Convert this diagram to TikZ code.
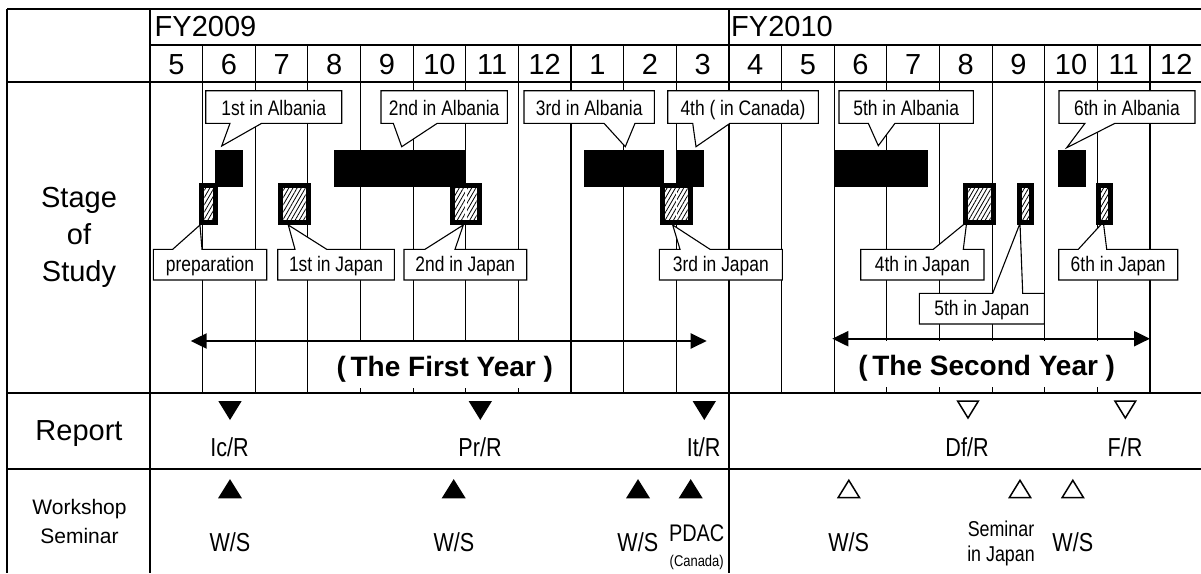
\documentclass[tikz,border=0pt]{standalone}
\usepackage{fontspec}
\setmainfont{Liberation Sans}
\newfontfamily\narrowf[FakeStretch=0.83]{Liberation Sans}
\usetikzlibrary{arrows.meta,patterns.meta}

\newcommand\calDown[8]{%
  \draw[callout] (#1,#2) -- (#3,#2) -- (#3,#4) -- (#6,#4) -- (#7,#8) -- (#5,#4) -- (#1,#4) -- cycle;}
\newcommand\calUp[8]{%
  \draw[callout] (#1,#2) -- (#5,#2) -- (#7,#8) -- (#6,#2) -- (#3,#2) -- (#3,#4) -- (#1,#4) -- cycle;}
\newcommand\hatchbx[2]{%
  \fill[black] (#1,183.3) rectangle (#2,225);
  \fill[white] ({#1+5},188.3) rectangle ({#2-5},220);
  \fill[pattern={Lines[angle=60,distance=3.6pt,line width=0.8pt]}] ({#1+5},188.3) rectangle ({#2-5},220);}
\newcommand\blackbar[2]{\fill[black] (#1,150) rectangle (#2,186.7);}

\begin{document}
\begin{tikzpicture}[x=1pt,y=-1pt,
  thinline/.style={line width=1.1pt},
  thickline/.style={line width=1.6pt},
  callout/.style={draw=black, line width=1.1pt, fill=white, line join=miter},
  ctext/.style={font=\narrowf\fontsize{21}{24}\selectfont, inner sep=0pt, anchor=base},
  head/.style={font=\fontsize{29}{35}\selectfont, inner sep=0pt, anchor=base},
  rtext/.style={font=\narrowf\fontsize{26}{30}\selectfont, inner sep=0pt, anchor=base},
  yeartext/.style={font=\bfseries\fontsize{28}{32}\selectfont, anchor=base, fill=white,
    inner xsep=2pt, inner ysep=0pt, text height=34.7pt, text depth=11.3pt},
  yeararrow/.style={line width=2.2pt, {Triangle[length=16pt,width=15pt]}-{Triangle[length=16pt,width=15pt]}},
  ftridown/.pic={\fill[black] (-11.7,-9.5) -- (11.7,-9.5) -- (0,9.5) -- cycle;},
  otridown/.pic={\draw[black,line width=1.5pt,fill=white] (-10.4,-8.7) -- (10.4,-8.7) -- (0,8.3) -- cycle;},
  ftriup/.pic={\fill[black] (-12,9.6) -- (12,9.6) -- (0,-9.6) -- cycle;},
  otriup/.pic={\draw[black,line width=1.5pt,fill=white] (-10.6,8.8) -- (10.6,8.8) -- (0,-8.4) -- cycle;},
]
\useasboundingbox (0,0) rectangle (1201,573);

% ---------- grid ----------
\foreach \i in {1,...,10,12,13,...,19} {
  \draw[thinline] ({150+52.63*\i},45) -- ({150+52.63*\i},393);
}
\draw[thickline] (728.9,9) -- (728.9,573);
\draw[thinline] (7,9) -- (1201,9);
\draw[thinline] (150,45) -- (1201,45);
\draw[thickline] (7,82) -- (1201,82);
\draw[thickline] (7,393) -- (1201,393);
\draw[thickline] (7,469) -- (1201,469);
\draw[thickline] (7,9) -- (7,573);
\draw[thickline] (150,9) -- (150,573);

% ---------- header ----------
\node[head, anchor=base west] (fy09) at (154.5,36.7) {FY2009};
\node[head, anchor=base west] (fy10) at (731,36.7) {FY2010};
\foreach \m [count=\j from 0] in {5,6,7,8,9,10,11,12,1,2,3,4,5,6,7,8,9,10,11,12} {
  \node[head] (m\j) at ({150+52.63*(\j+0.5)},74.7) {\m};
}

% ---------- row labels ----------
\node[font=\fontsize{29}{36.7}\selectfont, align=center, inner sep=0pt] (stage) at (79,237.5) {Stage\\of\\Study};
\node[head] (report) at (79,440) {Report};
\node[font=\fontsize{21}{28.3}\selectfont, align=center, inner sep=0pt] (ws) at (79.5,521.5) {Workshop\\Seminar};

% ---------- callouts (top) ----------
\calDown{205.7}{90.7}{341.7}{123.3}{230}{261.7}{221.7}{146}
\node[ctext] (ca1) at (273.7,115) {1st in Albania};
\calDown{381}{90.7}{507.3}{123.3}{393.3}{437.3}{401.7}{146.7}
\node[ctext] (ca2) at (444.2,115) {2nd in Albania};
\calDown{524}{90.7}{654.3}{123.3}{604}{635}{625.3}{146.7}
\node[ctext] (ca3) at (589.2,115) {3rd in Albania};
\calDown{667.7}{90.7}{818.3}{123.3}{692.7}{730}{696}{146.7}
\node[ctext] (ca4) at (743,115) {4th ( in Canada)};
\calDown{839}{90.7}{973.3}{123.3}{868.3}{895}{878.3}{145.7}
\node[ctext] (ca5) at (906.2,115) {5th in Albania};
\calDown{1059}{90.7}{1195}{123.3}{1085}{1115}{1066.7}{147.7}
\node[ctext] (ca6) at (1127,115) {6th in Albania};

% ---------- callouts (bottom) ----------
\calUp{153.3}{249.3}{266.7}{280}{172.7}{202}{200}{225}
\node[ctext] (cprep) at (210,271) {preparation};
\calUp{277.7}{249.3}{394.3}{280}{295}{326.7}{288.3}{225}
\node[ctext] (cj1) at (336,271) {1st in Japan};
\calUp{404}{249.3}{526.7}{280}{425}{455}{463.3}{225}
\node[ctext] (cj2) at (465.3,271) {2nd in Japan};
\calUp{659.3}{249.3}{782.3}{280}{680}{710}{672.7}{225}
\node[ctext] (cj3) at (720.8,271) {3rd in Japan};
\calUp{860.7}{249.3}{984}{280}{933.3}{963.3}{966.7}{222}
\node[ctext] (cj4) at (922.3,271) {4th in Japan};
\calUp{919.3}{293.3}{1044.3}{324}{992.7}{1022.7}{1020}{223.3}
\node[ctext] (cj5) at (981.8,315) {5th in Japan};
\calUp{1058.7}{249.3}{1177.7}{280}{1078.3}{1106.7}{1103.3}{222}
\node[ctext] (cj6) at (1118.2,271) {6th in Japan};

% ---------- bars ----------
\blackbar{215}{242.7}
\blackbar{334}{465.7}
\blackbar{584}{664}
\blackbar{676.7}{704}
\blackbar{834.3}{927.7}
\blackbar{1058.3}{1085.7}

\hatchbx{199.3}{218.3}
\hatchbx{278.3}{310.7}
\hatchbx{450}{481.7}
\hatchbx{660}{692.7}
\hatchbx{963.3}{995.7}
\hatchbx{1016.7}{1034.3}
\hatchbx{1095.7}{1113.3}
\draw[white, line width=1.6pt] (465.8,188.3) -- (465.8,220);
\draw[white, line width=1.6pt] (676.4,188.3) -- (676.4,220);

% ---------- years ----------
\node[yeartext] (y1t) at (444.8,376.7) {(\,The First Year )};
\node[yeartext] (y2t) at (986.7,375.5) {(\,The Second Year )};
\coordinate (y1l) at (190.7,341);
\coordinate (y1r) at (706.7,341);
\coordinate (y2l) at (832.3,338.7);
\coordinate (y2r) at (1150,338.7);
\draw[yeararrow] (y1l) -- (y1r);
\draw[yeararrow] (y2l) -- (y2r);

% ---------- report ----------
\pic at (230,410.5) {ftridown};
\pic at (480.3,410.5) {ftridown};
\pic at (704.3,410.5) {ftridown};
\pic at (968,409.7) {otridown};
\pic at (1125.3,409.7) {otridown};
\node[rtext] (ic) at (229.6,456) {Ic/R};
\node[rtext] (pr) at (480,456) {Pr/R};
\node[rtext] (it) at (703.7,456) {It/R};
\node[rtext] (df) at (967,456) {Df/R};
\node[rtext] (fr) at (1125,456) {F/R};

% ---------- workshop ----------
\pic at (230,488.7) {ftriup};
\pic at (453.7,488.7) {ftriup};
\pic at (638,488.7) {ftriup};
\pic at (690.7,488.7) {ftriup};
\pic at (848.8,488.7) {otriup};
\pic at (1020,488.7) {otriup};
\pic at (1072.8,488.7) {otriup};
\node[rtext] (ws1) at (230,551.7) {W/S};
\node[rtext] (ws2) at (454,551.7) {W/S};
\node[rtext] (ws3) at (637.8,551.7) {W/S};
\node[rtext, font=\narrowf\fontsize{24}{28}\selectfont] (pdac) at (696.7,541.7) {PDAC};
\node[rtext, font=\narrowf\fontsize{15.6}{18}\selectfont] (canada) at (696.7,566) {(Canada)};
\node[rtext] (ws4) at (848.7,551.7) {W/S};
\node[font=\narrowf\fontsize{21.5}{24.3}\selectfont, align=center, inner sep=0pt] (semjp) at (1001,543.4) {Seminar\\in Japan};
\node[rtext] (ws5) at (1072.8,551.7) {W/S};
\end{tikzpicture}
\end{document}
